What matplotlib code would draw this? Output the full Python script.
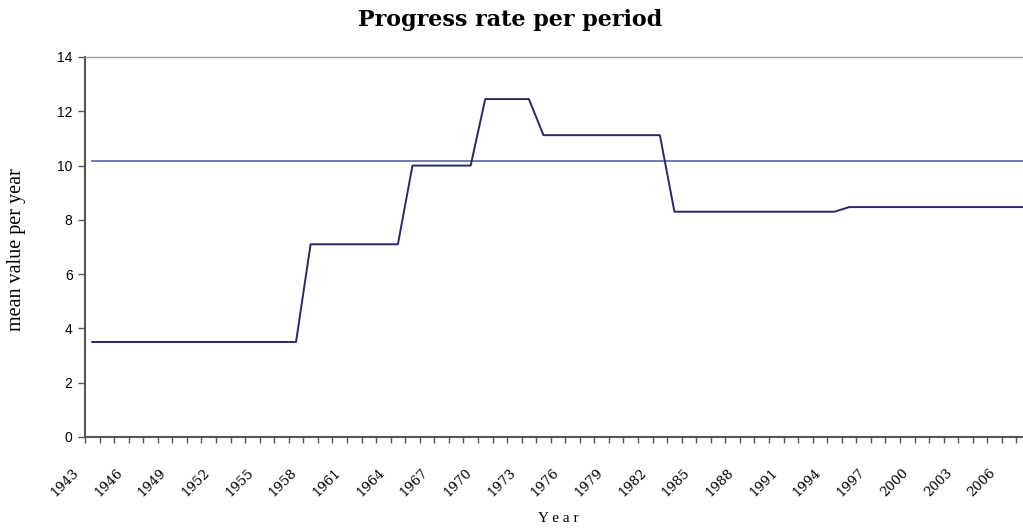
import numpy as np
import matplotlib.pyplot as plt
from matplotlib.transforms import ScaledTranslation

# years on the category axis (last one runs off the right edge)
years = list(range(1943, 2008))

# mean value per year, held constant over each period
periods = [(1943, 1957, 3.5), (1958, 1964, 7.1), (1965, 1969, 10.0),
           (1970, 1973, 12.45), (1974, 1982, 11.12), (1983, 1994, 8.3),
           (1995, 2007, 8.47)]
overall_mean = 10.16

rate = []
for y in years:
    for a, b, v in periods:
        if a <= y <= b:
            rate.append(v)

W, H = 1023, 529
fig = plt.figure(figsize=(W / 100, H / 100), dpi=100)
# plot area runs past the right border of the picture
ax = fig.add_axes([85 / W, 92 / H, 946 / W, 380 / H])

x = np.arange(len(years))
ax.plot(x, [overall_mean] * len(years), color='#5a72b8', lw=1.3)
ax.plot(x, rate, color='#23296e', lw=1.4)

ax.set_xlim(-0.5, len(years) - 0.5)
ax.set_ylim(0, 14)
ax.set_yticks(range(0, 15, 2))

ax.set_xticks(x[::3])
ax.set_xticklabels([str(y) for y in years[::3]], rotation=45, ha='right',
                   va='top', rotation_mode='anchor',
                   family='DejaVu Serif', fontsize=9.5)
ax.set_xticks(np.arange(-0.5, len(years)), minor=True)
ax.tick_params(axis='x', which='major', length=0, pad=21)
ax.tick_params(axis='x', which='minor', length=4, width=1, color='#555555',
               direction='out')
ax.tick_params(axis='y', length=5, width=1, color='#555555', pad=4,
               labelsize=10)
for lab in ax.get_yticklabels():
    lab.set_family('Liberation Sans')
shift = ScaledTranslation(-20 / 100, 0, fig.dpi_scale_trans)
for lab in ax.get_xticklabels():
    lab.set_transform(lab.get_transform() + shift)

for side in ['left', 'bottom']:
    ax.spines[side].set_color('#555555')
    ax.spines[side].set_linewidth(1.5)
ax.spines['top'].set_color('#999999')
ax.spines['top'].set_linewidth(1.0)
ax.spines['right'].set_visible(False)

fig.text(510 / W, 1 - 20 / H, 'Progress rate per period', ha='center',
         va='center', family='DejaVu Serif', fontweight='bold', fontsize=16)
fig.text(558 / W, 1 - 518 / H, 'Y e a r', ha='center', va='center',
         family='Liberation Serif', fontsize=11)
fig.text(17 / W, 1 - 250 / H, 'mean value per year', ha='center',
         va='center', rotation=90, family='Liberation Serif', fontsize=14.5)

fig.savefig('out.png', dpi=100)
